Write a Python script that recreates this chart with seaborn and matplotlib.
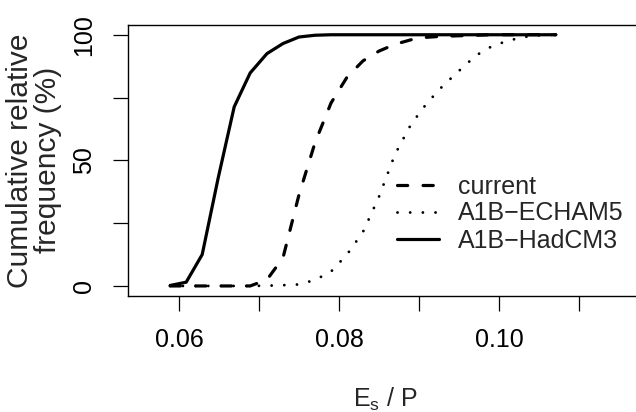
"""
Cumulative relative frequency of Es/P: current climate vs two A1B scenarios
"""
import matplotlib
matplotlib.use("Agg")
import matplotlib.pyplot as plt
import seaborn as sns

# x grid (Es / P) shared by the three curves
es_p = [0.0589, 0.0609, 0.0629, 0.0649, 0.0669, 0.0689, 0.0710, 0.0730,
        0.0750, 0.0770, 0.0790, 0.0810, 0.0830, 0.0850, 0.0870, 0.0890,
        0.0910, 0.0930, 0.0951, 0.0971, 0.0991, 0.1011, 0.1031, 0.1051,
        0.1071]

# cumulative relative frequency (%)
current = [0, 0, 0, 0, 0, 0, 2.5, 11.2, 36.3, 57.0, 72.8, 83.1, 89.6,
           93.5, 96.2, 98.0, 99.0, 99.4, 99.6, 99.8, 100, 100, 100, 100, 100]
echam5 = [0, 0, 0, 0, 0, 0, 0.1, 0.3, 0.6, 2.4, 5.7, 12.5, 21.5, 35.5,
          52.4, 64.3, 72.8, 79.7, 85.9, 91.7, 95.4, 97.6, 99.1, 99.8, 100]
hadcm3 = [0.2, 1.5, 12.5, 43.0, 71.3, 84.8, 92.5, 96.5, 99.1, 99.8, 100,
          100, 100, 100, 100, 100, 100, 100, 100, 100, 100, 100, 100, 100, 100]

labels = ["current", "A1B\u2212ECHAM5", "A1B\u2212HadCM3"]
y_ticks = [0, 25, 50, 75, 100]
y_ticklabels = ["0", "", "50", "", "100"]
x_ticks = [0.06, 0.07, 0.08, 0.09, 0.10, 0.11]
x_ticklabels = ["0.06", "", "0.08", "", "0.10", ""]

sns.set_style("ticks")
plt.rcParams["font.family"] = ["Liberation Sans", "DejaVu Sans"]
plt.rcParams["mathtext.fontset"] = "custom"
plt.rcParams["mathtext.rm"] = "Liberation Sans"
plt.rcParams["mathtext.it"] = "Liberation Sans"

W, H = 636, 412
fig = plt.figure(figsize=(W / 100, H / 100), dpi=100)
ax = fig.add_axes([128 / W, 1 - 296 / H, 514 / W, 271.3 / H])

lw = 2.3
sns.lineplot(x=es_p, y=current, ax=ax, color="black", lw=lw,
             linestyle=(0, (3.2, 4.8)), dash_capstyle="round", label=labels[0])
sns.lineplot(x=es_p, y=echam5, ax=ax, color="black", lw=lw * 0.9,
             linestyle=(0, (0.01, 4.4)), dash_capstyle="round", label=labels[1])
sns.lineplot(x=es_p, y=hadcm3, ax=ax, color="black", lw=lw,
             solid_capstyle="round", label=labels[2])

ax.set_xlim(0.053625, 0.11788)
ax.set_ylim(-4, 104)
ax.set_xticks(x_ticks)
ax.set_xticklabels(x_ticklabels)
ax.set_yticks(y_ticks)
ax.set_yticklabels(y_ticklabels, rotation=90, va="center")
ax.tick_params(axis="both", length=10.8, width=0.9, labelsize=18,
               colors="black")
ax.tick_params(axis="x", pad=12.5)
ax.tick_params(axis="y", pad=12.5)

for s in ax.spines.values():
    s.set_visible(True)
    s.set_linewidth(1.0)
    s.set_color("black")

ax.set_xlabel(r"$\mathregular{E_s}$ / P", fontsize=18, labelpad=24)
ax.set_ylabel("Cumulative relative\nfrequency (%)", fontsize=21.5, labelpad=7,
              linespacing=0.98)

ax.legend(loc="center left", bbox_to_anchor=((397 - 128) / 514, (296 - 213.5) / 271.3),
          frameon=False, fontsize=18, handlelength=1.68, handletextpad=0.76,
          labelspacing=0.12, borderpad=0, borderaxespad=0)

fig.savefig("out.png", dpi=100)
plt.close(fig)
